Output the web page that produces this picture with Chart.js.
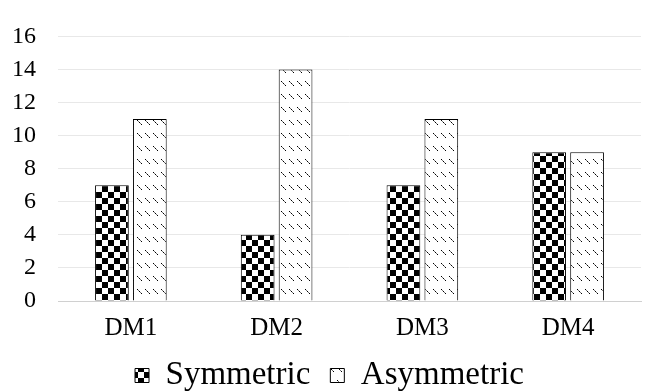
<!DOCTYPE html>
<html>
<head>
<meta charset="utf-8">
<script src="https://cdn.jsdelivr.net/npm/chart.js@4"></script>
<style>
  html, body { margin: 0; padding: 0; background: #fff; }
  #wrap { width: 647px; height: 392px; }
</style>
</head>
<body>
<div id="wrap"><canvas id="chart"></canvas></div>
<script>
const categories = ["DM1", "DM2", "DM3", "DM4"];
const symmetric = [7, 4, 7, 9];
const asymmetric = [11, 14, 11, 9];
const yTicks = [0, 2, 4, 6, 8, 10, 12, 14, 16];

// checkerboard fill
function checkerPattern() {
  const c = document.createElement("canvas");
  c.width = 12; c.height = 12;
  const g = c.getContext("2d");
  g.fillStyle = "#fff";
  g.fillRect(0, 0, 12, 12);
  g.fillStyle = "#000";
  g.fillRect(0, 0, 6, 6);
  g.fillRect(6, 6, 6, 6);
  return g.createPattern(c, "repeat");
}

// small dotted diagonal dashes
function dashPattern() {
  const c = document.createElement("canvas");
  c.width = 8; c.height = 13;
  const g = c.getContext("2d");
  g.fillStyle = "#fff";
  g.fillRect(0, 0, 8, 13);
  g.fillStyle = "#000";
  for (let i = 0; i < 5; i += 1) {
    g.globalAlpha = i % 2 ? 0.55 : 1;
    g.fillRect(1 + i, 3 + i, 1, 1);
  }
  return g.createPattern(c, "repeat");
}

const font = "'Liberation Serif', 'DejaVu Serif', serif";

// nudge the legend row up and a little to the right
const legendShift = {
  id: "legendShift",
  afterLayout(chart) {
    chart.legend.top -= 8;
    chart.legend.bottom -= 8;
    chart.legend.left += 14;
    chart.legend.right += 14;
  },
};

new Chart(document.getElementById("chart"), {
  type: "bar",
  data: {
    labels: categories,
    datasets: [
      {
        label: "Symmetric",
        data: symmetric,
        backgroundColor: checkerPattern(),
        borderColor: "#000",
        borderWidth: 1,
      },
      {
        label: "Asymmetric",
        data: asymmetric,
        backgroundColor: dashPattern(),
        borderColor: "#000",
        borderWidth: 1,
      },
    ],
  },
  options: {
    responsive: true,
    maintainAspectRatio: false,
    animation: false,
    layout: { padding: { top: -6, right: 6, left: -10, bottom: -18 } },
    datasets: { bar: { categoryPercentage: 0.52, barPercentage: 0.89 } },
    plugins: {
      legend: {
        position: "bottom",
        labels: {
          font: { family: font, size: 33 },
          color: "#000",
          boxWidth: 14,
          boxHeight: 14,
          padding: 20,
        },
      },
      tooltip: { enabled: false },
    },
    scales: {
      x: {
        grid: { display: false },
        border: { color: "#d0d0d0" },
        ticks: { font: { family: font, size: 25 }, color: "#000", padding: 4 },
      },
      y: {
        min: 0,
        max: 16,
        afterBuildTicks: (axis) => { axis.ticks = yTicks.map((v) => ({ value: v })); },
        grid: { color: "#e8e8e8", drawTicks: false },
        border: { display: false },
        ticks: { font: { family: font, size: 24 }, color: "#000", padding: 22, autoSkip: false },
      },
    },
  },
  plugins: [legendShift],
});
</script>
</body>
</html>
